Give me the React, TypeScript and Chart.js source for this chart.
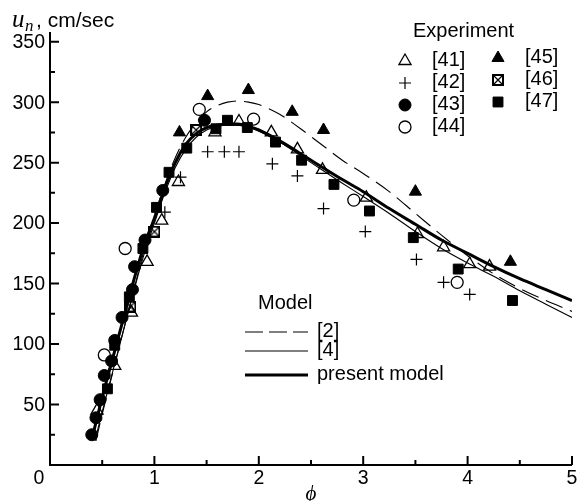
import React, { useEffect, useRef } from 'react';
import { Chart, registerables } from 'chart.js';
import { drawPoint } from 'chart.js/helpers';

Chart.register(...registerables);

// ---------- experimental data ----------
const phi41 = [0.45, 0.62, 0.78, 0.93, 1.07, 1.23, 1.58, 1.81, 2.12, 2.37, 2.61, 3.03, 3.52, 3.77, 4.02, 4.21];
const u41 = [45, 82, 126, 168, 202, 234, 275, 284, 275, 261, 244, 221, 191, 180, 166, 164];

const phi42 = [1.1, 1.25, 1.51, 1.67, 1.81, 2.13, 2.37, 2.62, 3.02, 3.51, 3.77, 4.02];
const u42 = [209, 238, 259, 259, 259, 249, 239, 212, 193, 170, 151, 141];

const phi43 = [0.4, 0.44, 0.48, 0.52, 0.59, 0.62, 0.69, 0.79, 0.81, 0.91, 1.08, 1.48];
const u43 = [25, 39, 54, 74, 86, 103, 122, 145, 164, 186, 227, 285];

const phi44 = [0.52, 0.72, 1.43, 1.95, 2.91, 3.9];
const u44 = [91, 179, 294, 286, 219, 151];

const phi45 = [1.24, 1.51, 1.9, 2.32, 2.62, 3.5, 4.41];
const u45 = [275, 305, 310, 292, 277, 226, 168];

const phi46 = [0.77, 1.0, 1.4];
const u46 = [131, 193, 277];

const phi47 = [0.55, 0.62, 0.76, 0.89, 1.02, 1.14, 1.31, 1.59, 1.7, 1.89, 2.16, 2.41, 2.72, 3.06, 3.48, 3.91, 4.43];
const u47 = [63, 99, 139, 179, 213, 242, 262, 278, 285, 279, 267, 252, 232, 210, 188, 162, 136];

// ---------- model curves ----------
const phiModel2 = [0.44, 0.5, 0.6, 0.7, 0.8, 0.9, 1.0, 1.1, 1.2, 1.3, 1.4, 1.5, 1.6, 1.7, 1.8, 1.9, 2.0, 2.2, 2.4, 2.6, 2.8, 3.0, 3.25, 3.5, 3.75, 4.0, 4.25, 4.5, 4.75, 5.0];
const uModel2 = [20, 42, 76, 110, 144, 177, 206, 232, 254, 271, 283, 292, 297, 300, 301, 300, 298, 290, 278, 265, 252, 241, 226, 208, 190, 173, 158, 146, 136, 127];

const phiModel4 = [0.43, 0.5, 0.6, 0.7, 0.8, 0.9, 1.0, 1.1, 1.2, 1.3, 1.4, 1.5, 1.6, 1.7, 1.8, 1.9, 2.0, 2.2, 2.5, 2.8, 3.0, 3.25, 3.5, 3.75, 4.0, 4.25, 4.5, 4.75, 5.0];
const uModel4 = [20, 44, 77, 110, 143, 174, 200, 225, 246, 261, 271, 277, 280, 281, 281, 279, 276, 267, 250, 233, 222, 208, 193, 179, 167, 156, 144, 133, 122];

const phiPresent = [0.4, 0.5, 0.6, 0.7, 0.8, 0.9, 1.0, 1.1, 1.2, 1.3, 1.4, 1.5, 1.6, 1.7, 1.8, 1.9, 2.0, 2.2, 2.5, 2.8, 3.0, 3.25, 3.5, 3.75, 4.0, 4.25, 4.5, 4.75, 5.0];
const uPresent = [21, 56, 88, 120, 152, 181, 204, 229, 250, 265, 274, 279, 281, 282, 282, 280, 277, 268, 252, 236, 226, 212, 199, 186, 175, 164, 154, 145, 136];

// ---------- axes ----------
const xTickValues = [0, 1, 2, 3, 4, 5];
const xTickLabels = ['0', '1', '2', '3', '4', '5'];
const xMinorValues = [0.5, 1.5, 2.5, 3.5, 4.5];
const yTickValues = [50, 100, 150, 200, 250, 300, 350];
const yTickLabels = ['50', '100', '150', '200', '250', '300', '350'];
const yMinorValues = [25, 75, 125, 175, 225, 275, 325];

const expLabels = ['[41]', '[42]', '[43]', '[44]', '[45]', '[46]', '[47]'];
const modelLabels = ['[2]', '[4]', 'present model'];

const SANS = '"Liberation Sans", Arial, sans-serif';
const SERIF = '"Liberation Serif", "Times New Roman", serif';

function pts(xs: number[], ys: number[]) {
  return xs.map((x, i) => ({ x, y: ys[i] }));
}

function makeBoxX(): HTMLCanvasElement {
  const c = document.createElement('canvas');
  c.width = 12;
  c.height = 12;
  const g = c.getContext('2d')!;
  g.strokeStyle = '#000';
  g.lineWidth = 2;
  g.strokeRect(1, 1, 10, 10);
  g.lineWidth = 1.2;
  g.beginPath();
  g.moveTo(2, 2);
  g.lineTo(10, 10);
  g.moveTo(10, 2);
  g.lineTo(2, 10);
  g.stroke();
  return c;
}

export default function App() {
  const ref = useRef<HTMLCanvasElement | null>(null);

  useEffect(() => {
    const canvas = ref.current;
    if (!canvas) return;
    const boxX = makeBoxX();

    const markerStyles: any[] = [
      { pointStyle: 'triangle', radius: 7, bg: 'rgba(0,0,0,0)', bw: 1.3 },
      { pointStyle: 'cross', radius: 6, bg: '#000', bw: 1.2 },
      { pointStyle: 'circle', radius: 6, bg: '#000', bw: 1 },
      { pointStyle: 'circle', radius: 6, bg: 'rgba(0,0,0,0)', bw: 1.3 },
      { pointStyle: 'triangle', radius: 7, bg: '#000', bw: 1 },
      { pointStyle: boxX, radius: 6, bg: '#000', bw: 1 },
      { pointStyle: 'rect', radius: 7, bg: '#000', bw: 1 },
    ];
    const series = [
      pts(phi41, u41), pts(phi42, u42), pts(phi43, u43), pts(phi44, u44),
      pts(phi45, u45), pts(phi46, u46), pts(phi47, u47),
    ];

    const pointSets = series.map((d, i) => ({
      label: expLabels[i],
      data: d,
      showLine: false,
      pointStyle: markerStyles[i].pointStyle,
      pointRadius: markerStyles[i].radius,
      pointBackgroundColor: markerStyles[i].bg,
      pointBorderColor: '#000',
      pointBorderWidth: markerStyles[i].bw,
    }));

    const lineSets = [
      { label: modelLabels[0], data: pts(phiModel2, uModel2), borderWidth: 1.1, borderDash: [18, 8] },
      { label: modelLabels[1], data: pts(phiModel4, uModel4), borderWidth: 1.1, borderDash: [] as number[] },
      { label: modelLabels[2], data: pts(phiPresent, uPresent), borderWidth: 3, borderDash: [] as number[] },
    ].map((s) => ({
      ...s,
      showLine: true,
      borderColor: '#000',
      backgroundColor: '#000',
      pointRadius: 0,
      cubicInterpolationMode: 'monotone' as const,
      fill: false,
    }));

    const decor = {
      id: 'decor',
      afterDraw(chart: any) {
        const ctx: CanvasRenderingContext2D = chart.ctx;
        const xs = chart.scales.x;
        const ys = chart.scales.y;
        const area = chart.chartArea;
        const x0 = xs.getPixelForValue(0);
        const xr = xs.getPixelForValue(5);
        const yb = ys.getPixelForValue(0);
        ctx.save();
        ctx.strokeStyle = '#000';
        ctx.fillStyle = '#000';
        ctx.lineWidth = 2;
        ctx.lineCap = 'butt';
        ctx.beginPath();
        ctx.moveTo(x0, area.top);
        ctx.lineTo(x0, yb);
        ctx.lineTo(xr, yb);
        ctx.stroke();
        // ticks
        ctx.beginPath();
        yTickValues.forEach((v) => {
          const y = ys.getPixelForValue(v);
          ctx.moveTo(x0, y);
          ctx.lineTo(x0 + 9, y);
        });
        yMinorValues.forEach((v) => {
          const y = ys.getPixelForValue(v);
          ctx.moveTo(x0, y);
          ctx.lineTo(x0 + 5, y);
        });
        xTickValues.forEach((v) => {
          if (v === 0) return;
          const x = xs.getPixelForValue(v);
          ctx.moveTo(x, yb);
          ctx.lineTo(x, yb - 9);
        });
        xMinorValues.forEach((v) => {
          const x = xs.getPixelForValue(v);
          ctx.moveTo(x, yb);
          ctx.lineTo(x, yb - 5);
        });
        ctx.stroke();
        // tick labels
        ctx.font = '19.5px ' + SANS;
        ctx.textAlign = 'right';
        ctx.textBaseline = 'middle';
        yTickValues.forEach((v, i) => {
          ctx.fillText(yTickLabels[i], x0 - 5, ys.getPixelForValue(v) + 1);
        });
        ctx.textAlign = 'center';
        ctx.textBaseline = 'top';
        xTickValues.forEach((v, i) => {
          const x = xs.getPixelForValue(v) + (v === 0 ? -11 : 0);
          ctx.fillText(xTickLabels[i], x, yb + 4);
        });
        // axis titles
        ctx.font = 'italic 21px ' + SERIF;
        ctx.textAlign = 'center';
        ctx.textBaseline = 'alphabetic';
        ctx.fillText('ϕ', xs.getPixelForValue(2.5), 500);
        ctx.textAlign = 'left';
        ctx.font = 'italic 25px ' + SERIF;
        ctx.fillText('u', 12, 27);
        ctx.font = 'italic 17px ' + SERIF;
        ctx.fillText('n', 25, 31);
        ctx.font = '21px ' + SANS;
        ctx.fillText(', cm/sec', 36, 27);

        // experiment legend
        ctx.font = '20px ' + SANS;
        ctx.textBaseline = 'alphabetic';
        ctx.fillText('Experiment', 413, 37);
        const legPos = [
          [405, 61], [405, 83], [405, 105], [405, 127],
          [498, 58], [498, 80], [498, 102],
        ];
        legPos.forEach(([lx, ly], i) => {
          const m = markerStyles[i];
          ctx.save();
          ctx.fillStyle = m.bg;
          ctx.strokeStyle = '#000';
          ctx.lineWidth = m.bw;
          drawPoint(ctx, { pointStyle: m.pointStyle, radius: m.radius, rotation: 0, borderWidth: m.bw } as any, lx, ly);
          ctx.restore();
          ctx.fillStyle = '#000';
          ctx.textBaseline = 'middle';
          ctx.textAlign = 'left';
          ctx.fillText(expLabels[i], lx + 27, ly - 1);
        });

        // model legend
        ctx.textBaseline = 'alphabetic';
        ctx.fillText('Model', 258, 309);
        const rows = [
          { y: 332, w: 1.1, dash: [18, 6] },
          { y: 351, w: 1.1, dash: [] as number[] },
          { y: 375, w: 3, dash: [] as number[] },
        ];
        rows.forEach((r, i) => {
          ctx.save();
          ctx.lineWidth = r.w;
          ctx.setLineDash(r.dash);
          ctx.beginPath();
          ctx.moveTo(245, r.y);
          ctx.lineTo(308, r.y);
          ctx.stroke();
          ctx.restore();
          ctx.textBaseline = 'middle';
          ctx.fillText(modelLabels[i], 317, r.y - 1);
        });
        ctx.restore();
      },
    };

    const chart = new Chart(canvas, {
      type: 'scatter',
      data: { datasets: [...pointSets, ...lineSets] as any },
      options: {
        responsive: false,
        animation: false,
        devicePixelRatio: 1,
        layout: { padding: { left: 50, right: 12, top: 32, bottom: 36 } },
        plugins: { legend: { display: false }, tooltip: { enabled: false } },
        scales: {
          x: { type: 'linear', min: 0, max: 5, display: false },
          y: { type: 'linear', min: 0, max: 358, display: false },
        },
      },
      plugins: [decor],
    });
    return () => chart.destroy();
  }, []);

  return (
    <div style={{ position: 'absolute', left: 0, top: 0, width: 584, height: 501, background: '#fff' }}>
      <canvas ref={ref} width={584} height={501} />
    </div>
  );
}
